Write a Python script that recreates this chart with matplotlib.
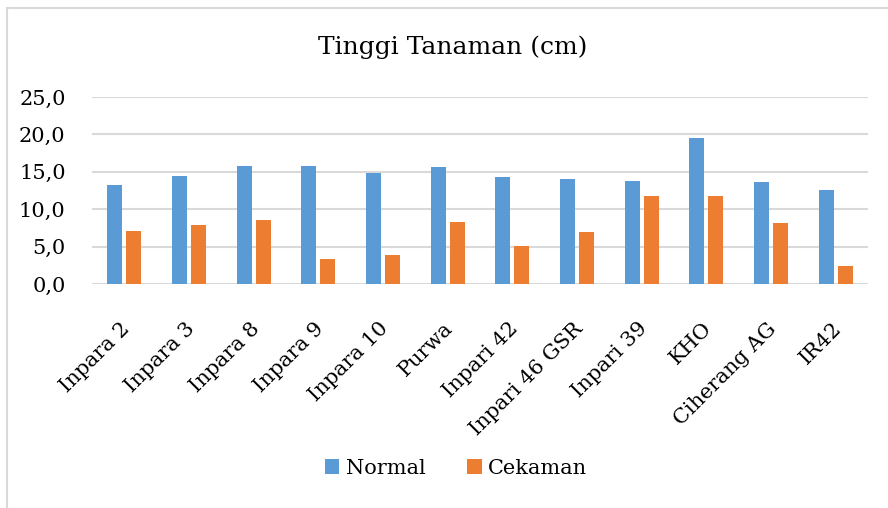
import matplotlib.pyplot as plt
import numpy as np
from matplotlib.patches import Rectangle
from matplotlib.ticker import FuncFormatter

# data
varieties = ["Inpara 2", "Inpara 3", "Inpara 8", "Inpara 9", "Inpara 10", "Purwa",
             "Inpari 42", "Inpari 46 GSR", "Inpari 39", "KHO", "Ciherang AG", "IR42"]
normal = [13.3, 14.5, 15.8, 15.8, 14.9, 15.6, 14.3, 14.05, 13.8, 19.5, 13.7, 12.6]
cekaman = [7.1, 7.9, 8.5, 3.35, 3.9, 8.3, 5.1, 6.9, 11.8, 11.8, 8.2, 2.35]

plt.rcParams['font.family'] = ['DejaVu Serif']

fig = plt.figure(figsize=(8.88, 5.08), dpi=100)
ax = fig.add_axes([92 / 888, 1 - 284 / 508, (868 - 92) / 888, (284 - 97) / 508])

# light gray frame around the whole chart
fig.patches.append(Rectangle((7 / 888, -0.05), 1.0, 1 - 8 / 508 + 0.05,
                             transform=fig.transFigure, fill=False,
                             edgecolor='#d9d9d9', linewidth=1.5))

x = np.arange(len(varieties))
w = 0.232
off = 0.147
ax.bar(x - off, normal, w, color='#5b9bd5', label='Normal', zorder=3)
ax.bar(x + off, cekaman, w, color='#ed7d31', label='Cekaman', zorder=3)

ax.set_xlim(-0.5, len(varieties) - 0.5)
ax.set_ylim(0, 25)
ax.set_yticks(np.arange(0, 26, 5))
ax.yaxis.set_major_formatter(FuncFormatter(lambda v, p: f"{v:.1f}".replace('.', ',')))
ax.grid(axis='y', color='#d9d9d9', linewidth=1.5, zorder=0)
for s in ax.spines.values():
    s.set_visible(False)
ax.tick_params(axis='both', length=0, labelsize=15)
ax.tick_params(axis='y', pad=19)
ax.set_xticks(x + 0.04)
ax.set_xticklabels(varieties, rotation=45, ha='right', va='center', rotation_mode='anchor')
ax.tick_params(axis='x', pad=30)

fig.text(453 / 888, 1 - 47 / 508, "Tinggi Tanaman (cm)", ha='center', va='center', fontsize=18)
fig.legend(loc='center', bbox_to_anchor=(456 / 888, 1 - 468 / 508), ncol=2, frameon=False,
           fontsize=15, handlelength=0.7, handleheight=0.7, handletextpad=0.3,
           columnspacing=2.0)

fig.savefig("out.png", dpi=100)
